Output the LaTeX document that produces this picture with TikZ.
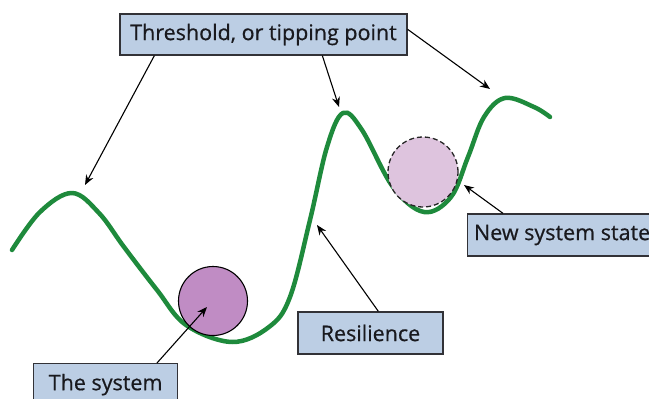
\documentclass[tikz,border=0pt]{standalone}
\usepackage{fontspec}
\setmainfont{Open Sans}
\usetikzlibrary{calc,arrows.meta}
\definecolor{boxblue}{RGB}{188,206,228}
\definecolor{boxedge}{RGB}{50,50,55}
\definecolor{curvegreen}{RGB}{30,138,60}
\definecolor{sysfill}{RGB}{192,140,196}
\definecolor{newfill}{RGB}{222,196,222}
\definecolor{txt}{RGB}{25,25,30}
\begin{document}
\begin{tikzpicture}[x=1pt,y=-1pt,
  label box/.style={draw=boxedge,line width=1.3pt,fill=boxblue,inner sep=0pt,
    font=\fontsize{21.5}{25}\selectfont\addfontfeature{FakeBold=0.6},text=txt},
  pointer/.style={draw=black,line width=1.1pt,-{Stealth[length=10pt,width=8pt]}},
  landscape/.style={draw=curvegreen,line width=4.5pt,line cap=round,line join=round}]
\useasboundingbox (0,0) rectangle (649,399);
\fill[white] (0,0) rectangle (649,399);
% landscape curve
\draw[landscape] plot[smooth,tension=0.6] coordinates {
 (12,250) (40,212) (72,193) (99,213) (124,247) (157,290) (186,325)
 (232,342) (269,327) (290,297) (310,220) (327,147) (343,113) (362,130)
 (393,187) (424,212) (451,197) (468,157) (484,117) (505,98) (534,107) (550,117)};
% balls
\node[circle,draw=black,line width=1.1pt,fill=sysfill,minimum size=69pt,inner sep=0pt] (ball) at (213,301) {};
\node[circle,draw=black!85,dash pattern=on 5pt off 3pt,line width=1.3pt,fill=newfill,minimum size=70pt,inner sep=0pt] (newball) at (423,172) {};
% boxes
\node[label box,minimum width=287pt,minimum height=41pt] (thr) at (263.5,34.5) {Threshold, or tipping point};
\node[label box,minimum width=183pt,minimum height=42pt,anchor=west] (nss) at (467,235) {\hspace{6pt}New system state\hfill};
\node[label box,minimum width=145pt,minimum height=42pt] (res) at (370.5,333) {Resilience};
\node[label box,minimum width=144pt,minimum height=42pt,anchor=north west] (sys) at (33,363) {\raisebox{-4pt}{The system}};
% targets
\coordinate (peak1) at (85,185);
\coordinate (peak2) at (339,107);
\coordinate (peak3) at (490,89);
\coordinate (nsstip) at (464,185);
\coordinate (restip) at (317,225);
\coordinate (systip) at (207,307);
% pointers
\draw[pointer] ($(thr.south west)+(35,0)$) -- (peak1);
\draw[pointer] ($(thr.south west)+(203,0)$) -- (peak2);
\draw[pointer] ($(thr.north east)+(0,16)$) -- (peak3);
\draw[pointer] ($(nss.north west)+(36,0)$) -- (nsstip);
\draw[pointer] ($(res.north west)+(81,0)$) -- (restip);
\draw[pointer] ($(sys.north west)+(124,0)$) -- (systip);
\end{tikzpicture}
\end{document}
